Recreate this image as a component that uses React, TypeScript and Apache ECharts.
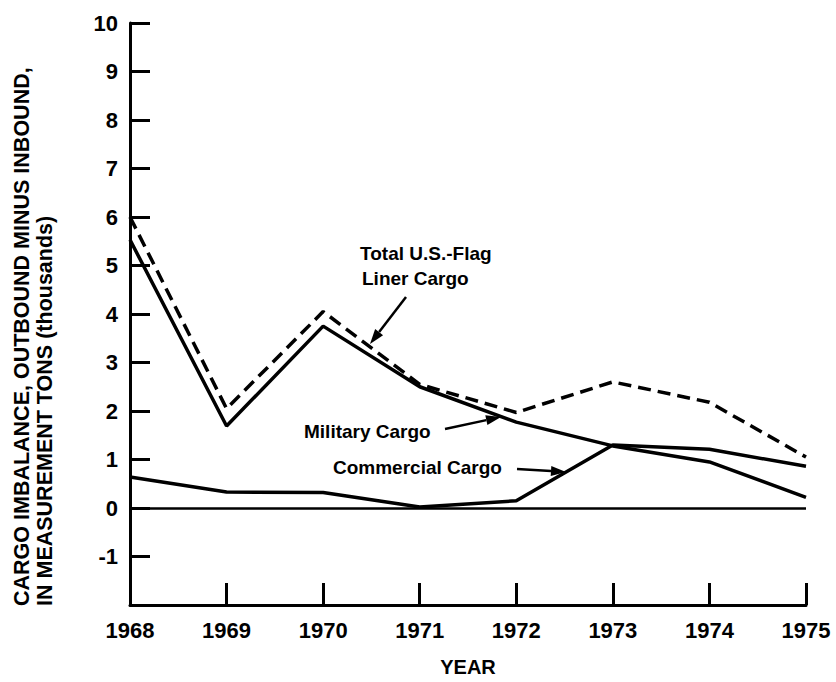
import React, { useEffect, useRef } from "react";
import * as echarts from "echarts";

const years = ["1968", "1969", "1970", "1971", "1972", "1973", "1974", "1975"];
const totalUSFlag = [6.0, 2.05, 4.05, 2.55, 1.97, 2.6, 2.18, 1.05];
const military = [5.53, 1.69, 3.75, 2.5, 1.77, 1.28, 0.95, 0.22];
const commercial = [0.64, 0.33, 0.32, 0.02, 0.15, 1.3, 1.21, 0.86];
const yTicks = { min: -2, max: 10, interval: 1 };

const FONT = '"Liberation Sans", Arial, Helvetica, sans-serif';

function arrow(x1: number, y1: number, x2: number, y2: number) {
  const dx = x2 - x1;
  const dy = y2 - y1;
  const len = Math.sqrt(dx * dx + dy * dy);
  const ux = dx / len;
  const uy = dy / len;
  const hl = 15;
  const hw = 5;
  const bx = x2 - ux * hl;
  const by = y2 - uy * hl;
  return [
    {
      type: "line",
      shape: { x1, y1, x2: bx, y2: by },
      style: { stroke: "#000", lineWidth: 2.5 },
      silent: true,
    },
    {
      type: "polygon",
      shape: {
        points: [
          [x2, y2],
          [bx - uy * hw, by + ux * hw],
          [bx + uy * hw, by - ux * hw],
        ],
      },
      style: { fill: "#000" },
      silent: true,
    },
  ];
}

function label(text: string, x: number, y: number) {
  return {
    type: "text",
    x,
    y,
    style: {
      text,
      fill: "#000",
      font: `bold 19px ${FONT}`,
      textAlign: "left",
      textVerticalAlign: "middle",
    },
    silent: true,
  };
}

export default function App() {
  const ref = useRef<HTMLDivElement>(null);
  useEffect(() => {
    document.body.style.margin = "0";
    if (!ref.current) return;
    const chart = echarts.init(ref.current, null, { renderer: "svg" });
    const axisLine = { show: true, onZero: false, lineStyle: { color: "#000", width: 3 } };
    chart.setOption({
      animation: false,
      backgroundColor: "#fff",
      grid: { left: 130, right: 30, top: 23, bottom: 76, containLabel: false },
      xAxis: {
        type: "category",
        data: years,
        boundaryGap: false,
        axisLine,
        axisTick: { show: true, inside: true, length: 22, lineStyle: { color: "#000", width: 3 } },
        axisLabel: { color: "#000", fontFamily: FONT, fontWeight: "bold", fontSize: 22, margin: 14 },
        splitLine: { show: false },
        name: "YEAR",
        nameLocation: "middle",
        nameGap: 52,
        nameTextStyle: { color: "#000", fontFamily: FONT, fontWeight: "bold", fontSize: 20 },
      },
      yAxis: {
        type: "value",
        min: yTicks.min,
        max: yTicks.max,
        interval: yTicks.interval,
        axisLine,
        axisTick: { show: true, inside: true, length: 20, lineStyle: { color: "#000", width: 3 } },
        axisLabel: {
          color: "#000",
          fontFamily: FONT,
          fontWeight: "bold",
          fontSize: 22,
          margin: 12,
          formatter: (v: number) => (v === yTicks.min ? "" : String(v)),
        },
        splitLine: { show: false },
      },
      series: [
        {
          name: "Total U.S.-Flag Liner Cargo",
          type: "line",
          data: totalUSFlag,
          symbol: "none",
          lineStyle: { color: "#000", width: 3.5, type: [13, 7] },
        },
        {
          name: "Military Cargo",
          type: "line",
          data: military,
          symbol: "none",
          lineStyle: { color: "#000", width: 3.5 },
        },
        {
          name: "Commercial Cargo",
          type: "line",
          data: commercial,
          symbol: "none",
          lineStyle: { color: "#000", width: 3.5 },
          markLine: {
            silent: true,
            symbol: "none",
            label: { show: false },
            lineStyle: { color: "#000", width: 2.5, type: "solid" },
            data: [{ yAxis: 0 }],
          },
        },
      ],
      graphic: [
        {
          type: "text",
          x: 22,
          y: 606,
          rotation: Math.PI / 2,
          style: {
            text: "CARGO IMBALANCE, OUTBOUND MINUS INBOUND,",
            fill: "#000",
            font: `bold 21.5px ${FONT}`,
            textAlign: "left",
            textVerticalAlign: "middle",
          },
          silent: true,
        },
        {
          type: "text",
          x: 45,
          y: 606,
          rotation: Math.PI / 2,
          style: {
            text: "IN MEASUREMENT TONS (thousands)",
            fill: "#000",
            font: `bold 21.5px ${FONT}`,
            textAlign: "left",
            textVerticalAlign: "middle",
          },
          silent: true,
        },
        label("Total U.S.-Flag", 360, 253),
        label("Liner Cargo", 362, 278),
        label("Military Cargo", 304, 431),
        label("Commercial Cargo", 333, 467),
        ...arrow(406, 297, 370, 344),
        ...arrow(445, 429, 501, 417),
        ...arrow(517, 469, 566, 472),
      ],
    });
    return () => chart.dispose();
  }, []);
  return <div ref={ref} style={{ width: 836, height: 682 }} />;
}
